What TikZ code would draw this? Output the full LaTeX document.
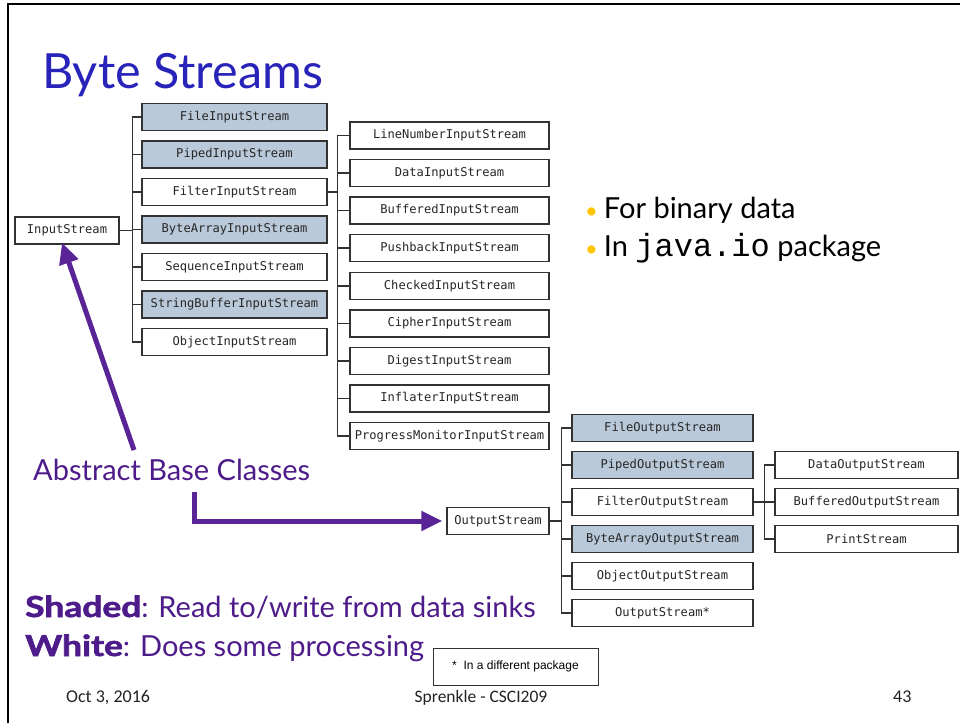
\documentclass[tikz,border=0pt]{standalone}
\usepackage{fontspec}
\setmainfont{Lato}
\newfontfamily\boxfont{DejaVu Sans Mono}
\newfontfamily\codefont{Liberation Mono}
\newfontfamily\footfont{Carlito}
\newfontfamily\notefont{Liberation Sans}
\newfontfamily\heavyfont[FakeBold=2]{Lato}
\usetikzlibrary{arrows.meta}
\definecolor{titleblue}{RGB}{40,35,185}
\definecolor{purp}{RGB}{78,28,138}
\definecolor{arrowpurp}{RGB}{88,36,150}
\definecolor{shade}{RGB}{186,201,217}
\definecolor{boxline}{RGB}{50,50,50}
\definecolor{gold}{RGB}{255,198,0}
\definecolor{foot}{RGB}{35,35,35}
\tikzset{
  cls/.style={draw=boxline, line width=1.4pt, fill=white, minimum height=27pt, inner sep=0pt,
    font=\boxfont\fontsize{12.1}{13}\selectfont, text=black!85},
  shaded/.style={cls, fill=shade},
  w1/.style={minimum width=185pt},
  w2/.style={minimum width=199pt},
  w3/.style={minimum width=181pt},
  w4/.style={minimum width=183pt},
  tree/.style={draw=boxline, line width=1.2pt},
  bigarrow/.style={draw=arrowpurp, line width=5pt, -{Triangle[length=21pt,width=19pt]}},
  lbl/.style={anchor=base west, inner sep=0pt},
}
\newcommand{\heavyword}[1]{\scalebox{1.22}[1]{\heavyfont\bfseries #1}}
\begin{document}
\begin{tikzpicture}[x=1pt,y=-1pt]
\fill[white] (0,0) rectangle (960,723);
\useasboundingbox (0,0) rectangle (960,723);
\draw[line width=2.6pt] (8,723) -- (8,4) -- (960,4);

% title and bullets
\node[lbl, font=\fontsize{48.5}{52}\selectfont, text=titleblue] (title) at (42,88) {Byte Streams};
\node[lbl, font=\fontsize{29}{32}\selectfont] (b1) at (585,218) {\textcolor{gold}{\fontsize{22}{24}\selectfont •}\hspace{6pt}For binary data};
\node[lbl, font=\fontsize{29}{32}\selectfont] (b2) at (585,256) {\textcolor{gold}{\fontsize{22}{24}\selectfont •}\hspace{6pt}In {\codefont\fontsize{32}{34}\selectfont java.io} package};

% InputStream tree
\node[cls, minimum width=104pt] (in) at (67,230.5) {InputStream};
\node[shaded, w1] (fis) at (234.5,117) {FileInputStream};
\node[shaded, w1] (pis) at (234.5,154.5) {PipedInputStream};
\node[cls, w1] (filis) at (234.5,192) {FilterInputStream};
\node[shaded, w1] (bais) at (234.5,229.5) {ByteArrayInputStream};
\node[cls, w1] (sis) at (234.5,267) {SequenceInputStream};
\node[shaded, w1] (sbis) at (234.5,304.5) {StringBufferInputStream};
\node[cls, w1] (ois) at (234.5,342) {ObjectInputStream};
\foreach \c in {fis,pis,filis,bais,sis,sbis,ois}{
  \draw[tree] (in.east) -- ++(13,0) |- (\c.west);
}

\node[cls, w2] (lnis) at (449.5,135.5) {LineNumberInputStream};
\node[cls, w2] (dis) at (449.5,173) {DataInputStream};
\node[cls, w2] (bis) at (449.5,210.5) {BufferedInputStream};
\node[cls, w2] (pbis) at (449.5,248) {PushbackInputStream};
\node[cls, w2] (cis) at (449.5,286) {CheckedInputStream};
\node[cls, w2] (cpis) at (449.5,323.5) {CipherInputStream};
\node[cls, w2] (dgis) at (449.5,361) {DigestInputStream};
\node[cls, w2] (iis) at (449.5,398.5) {InflaterInputStream};
\node[cls, w2] (pmis) at (449.5,436) {ProgressMonitorInputStream};
\foreach \c in {lnis,dis,bis,pbis,cis,cpis,dgis,iis,pmis}{
  \draw[tree] (filis.east) -- ++(10,0) |- (\c.west);
}

% OutputStream tree
\node[cls, minimum width=102pt] (out) at (498,521) {OutputStream};
\node[shaded, w3] (fos) at (662.5,428) {FileOutputStream};
\node[shaded, w3] (pos) at (662.5,465) {PipedOutputStream};
\node[cls, w3] (filos) at (662.5,502) {FilterOutputStream};
\node[shaded, w3] (baos) at (662.5,539) {ByteArrayOutputStream};
\node[cls, w3] (oos) at (662.5,576) {ObjectOutputStream};
\node[cls, w3] (os2) at (662.5,613) {OutputStream*};
\foreach \c in {fos,pos,filos,baos,oos,os2}{
  \draw[tree] (out.east) -- ++(12,0) |- (\c.west);
}

\node[cls, w4] (dos) at (866.5,465) {DataOutputStream};
\node[cls, w4] (bos) at (866.5,502) {BufferedOutputStream};
\node[cls, w4] (ps) at (866.5,539) {PrintStream};
\foreach \c in {dos,bos,ps}{
  \draw[tree] (filos.east) -- ++(11,0) |- (\c.west);
}

% annotations
\node[lbl, font=\fontsize{29}{32}\selectfont, text=purp] (abc) at (33,480) {Abstract Base Classes};
\coordinate (a1) at (134,450);
\draw[bigarrow] (a1) -- ([xshift=-5pt,yshift=2pt]in.south);
\coordinate (a2) at (194,492);
\draw[bigarrow, shorten >=4pt] (a2) |- (out.west);

\node[lbl, font=\fontsize{29}{32}\selectfont, text=purp] (shd) at (25,617) {\heavyword{Shaded}: Read to/write from data sinks};
\node[lbl, font=\fontsize{29}{32}\selectfont, text=purp] (wht) at (25,656) {\heavyword{White}: Does some processing};

\node[draw=boxline, line width=1pt, minimum width=165pt, minimum height=37pt, inner sep=0pt,
  font=\notefont\fontsize{12}{13}\selectfont] (note) at (515.5,666.5) {*\ \ In a different package};

% footer
\node[lbl, font=\footfont\fontsize{18}{20}\selectfont, text=foot] (date) at (66,702) {Oct 3, 2016};
\node[anchor=base, inner sep=0pt, font=\footfont\fontsize{17.5}{20}\selectfont, text=foot] (auth) at (481,702) {Sprenkle - CSCI209};
\node[lbl, font=\footfont\fontsize{18}{20}\selectfont, text=foot] (pg) at (893,702) {43};
\end{tikzpicture}
\end{document}
